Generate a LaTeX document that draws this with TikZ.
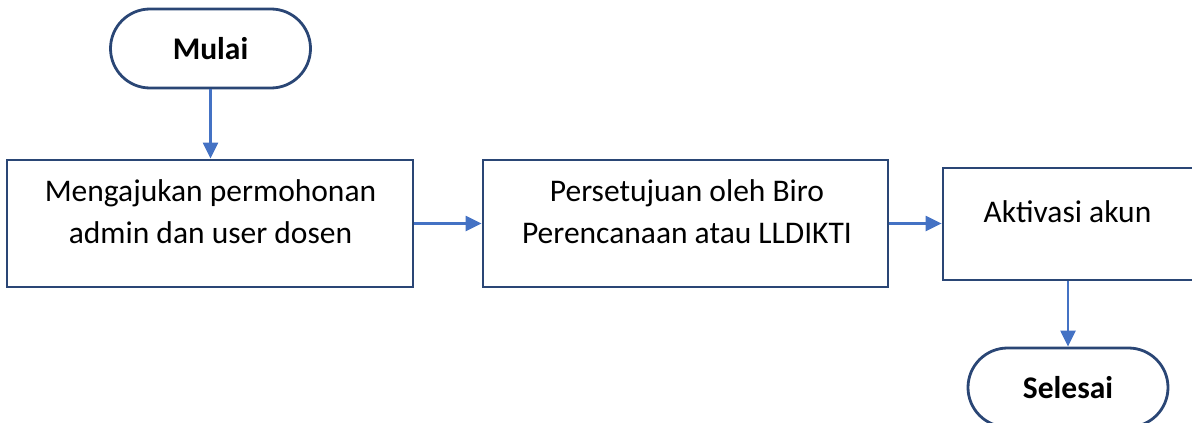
\documentclass[tikz,border=0pt]{standalone}
\usepackage{fontspec}
\setmainfont{Carlito}
\usetikzlibrary{arrows.meta,shapes.misc}
\definecolor{edgenavy}{HTML}{2A4675}
\definecolor{flowblue}{HTML}{4472C4}
\begin{document}
\begin{tikzpicture}[x=1pt,y=-1pt,
  terminal/.style={rounded rectangle, draw=edgenavy, line width=2.8pt,
    minimum width=200pt, minimum height=79pt, inner sep=0pt,
    font=\fontsize{31.5}{42}\selectfont\bfseries},
  stepbox/.style={draw=edgenavy, line width=2.8pt, inner sep=0pt},
  steptext/.style={align=center, inner sep=0pt,
    font=\fontsize{31.5}{42}\selectfont},
  flow/.style={draw=flowblue, line width=2.3pt,
    -{Triangle[length=16pt,width=15pt]}}]
\useasboundingbox (0,0) rectangle (1192,423);
\clip (0,0) rectangle (1192,423);

% terminals
\node[terminal] (mulai) at (210.5,48.5) {Mulai};
\node[terminal] (selesai) at (1068,387.5) {Selesai};

% process boxes
\node[stepbox, minimum width=406pt, minimum height=127pt] (b1) at (210,223.5) {};
\node[stepbox, minimum width=405pt, minimum height=127pt] (b2) at (685.5,223.5) {};
\node[stepbox, minimum width=251pt, minimum height=112pt] (b3) at (1068.5,224) {};

% box labels
\node[steptext] (t1) at (210.5,212) {Mengajukan permohonan\\admin dan user dosen};
\node[steptext] (t2) at (687,212) {Persetujuan oleh Biro\\Perencanaan atau LLDIKTI};
\node[steptext] (t3) at (1067.5,212) {Aktivasi akun};

% connectors
\draw[flow] (mulai.south) -- (mulai.south |- b1.north);
\draw[flow] (b1.east) -- (b2.west);
\draw[flow] (b2.east) -- (b2.east -| b3.west);
\draw[flow] (b3.south -| selesai.north) -- (selesai.north);
\end{tikzpicture}
\end{document}
